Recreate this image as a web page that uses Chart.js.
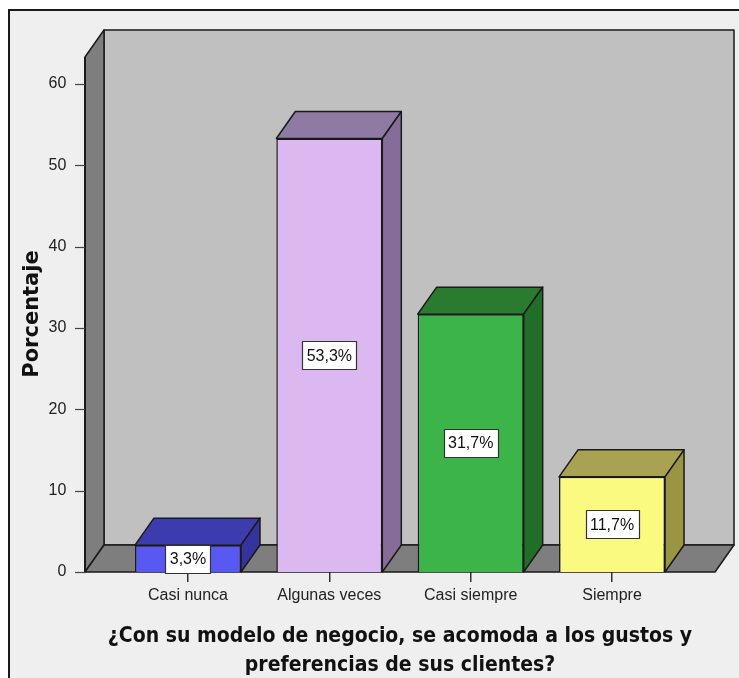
<!DOCTYPE html>
<html>
<head>
<meta charset="utf-8">
<script src="https://cdn.jsdelivr.net/npm/chart.js@4.4.1/dist/chart.umd.min.js"></script>
<style>
  html, body { margin: 0; padding: 0; background: #fff; }
  #wrap { width: 739px; height: 678px; }
</style>
</head>
<body>
<div id="wrap"><canvas id="myChart" width="739" height="678"></canvas></div>
<script>
// data
var categories = ['Casi nunca', 'Algunas veces', 'Casi siempre', 'Siempre'];
var percentages = [3.3, 53.3, 31.7, 11.7];
var yTickValues = [0, 10, 20, 30, 40, 50, 60];
var titleLines = ['¿Con su modelo de negocio, se acomoda a los gustos y', 'preferencias de sus clientes?'];

// colours of the three visible faces of each bar
var frontColors = ['#5858f2', '#dcb8f0', '#3cb44a', '#fafa80'];
var topColors = ['#3c3cae', '#8e7aa2', '#2a7a30', '#a8a252'];
var sideColors = ['#34349c', '#866c98', '#216e28', '#9a9542'];

var dx = 19, dy = -27;   // depth of the 3d look
var sideGap = 32.3;      // floor sticks out this far past the bars area
var sans = '"Liberation Sans", Arial, sans-serif';

function fmt(v) {
  return v.toFixed(1).replace('.', ',') + '%';
}

const box3d = {
  id: 'box3d',
  beforeDraw(chart) {
    const ctx = chart.ctx;
    ctx.save();
    ctx.fillStyle = '#fff';
    ctx.fillRect(0, 0, chart.width, chart.height);
    ctx.fillStyle = '#efefef';
    ctx.fillRect(9, 11, chart.width - 9, chart.height - 11);
    ctx.strokeStyle = '#1a1a1a';
    ctx.lineWidth = 2;
    ctx.beginPath();
    ctx.moveTo(9, chart.height);
    ctx.lineTo(9, 10);
    ctx.lineTo(chart.width, 10);
    ctx.stroke();
    ctx.restore();
  },
  beforeDatasetsDraw(chart) {
    const ctx = chart.ctx;
    const a = chart.chartArea;
    const y = chart.scales.y;
    const y0 = y.getPixelForValue(0);
    const yTop = a.top + dy;
    const left = a.left - sideGap;
    const right = a.right + sideGap;
    ctx.save();
    ctx.strokeStyle = '#1a1a1a';
    ctx.lineWidth = 1.5;
    ctx.lineJoin = 'round';

    // back wall
    ctx.fillStyle = '#c0c0c0';
    ctx.beginPath();
    ctx.rect(left + dx, yTop + dy, right - left, y0 - yTop);
    ctx.fill(); ctx.stroke();

    // left wall
    ctx.fillStyle = '#7e7e7e';
    ctx.beginPath();
    ctx.moveTo(left, y0);
    ctx.lineTo(left, yTop);
    ctx.lineTo(left + dx, yTop + dy);
    ctx.lineTo(left + dx, y0 + dy);
    ctx.closePath();
    ctx.fill(); ctx.stroke();

    // floor
    ctx.beginPath();
    ctx.moveTo(left, y0);
    ctx.lineTo(right, y0);
    ctx.lineTo(right + dx, y0 + dy);
    ctx.lineTo(left + dx, y0 + dy);
    ctx.closePath();
    ctx.fill(); ctx.stroke();

    // y axis line and tick marks
    ctx.lineWidth = 2;
    ctx.beginPath();
    ctx.moveTo(left, y0);
    ctx.lineTo(left, yTop);
    ctx.stroke();
    ctx.lineWidth = 1.2;
    ctx.strokeStyle = '#444';
    yTickValues.forEach(v => {
      const py = Math.round(y.getPixelForValue(v)) + 0.5;
      ctx.beginPath();
      ctx.moveTo(left - 10, py);
      ctx.lineTo(left, py);
      ctx.stroke();
    });
    ctx.restore();
  },
  afterDatasetsDraw(chart) {
    const ctx = chart.ctx;
    const meta = chart.getDatasetMeta(0);
    ctx.save();
    ctx.lineJoin = 'round';
    meta.data.forEach((bar, i) => {
      const x0 = bar.x - bar.width / 2;
      const x1 = bar.x + bar.width / 2;
      const yt = bar.y;
      const yb = bar.base;
      ctx.strokeStyle = '#1a1a1a';
      ctx.lineWidth = 1.5;
      // top face
      ctx.fillStyle = topColors[i];
      ctx.beginPath();
      ctx.moveTo(x0, yt);
      ctx.lineTo(x1, yt);
      ctx.lineTo(x1 + dx, yt + dy);
      ctx.lineTo(x0 + dx, yt + dy);
      ctx.closePath();
      ctx.fill(); ctx.stroke();
      // side face
      ctx.fillStyle = sideColors[i];
      ctx.beginPath();
      ctx.moveTo(x1, yt);
      ctx.lineTo(x1 + dx, yt + dy);
      ctx.lineTo(x1 + dx, yb + dy);
      ctx.lineTo(x1, yb);
      ctx.closePath();
      ctx.fill(); ctx.stroke();
      // value box
      const txt = fmt(percentages[i]);
      ctx.font = '16px ' + sans;
      const w = Math.round(ctx.measureText(txt).width + 9);
      const h = 28;
      const cy = (yt + yb) / 2;
      const bx = Math.round(bar.x - w / 2) + 0.5;
      const by = Math.round(cy - h / 2) + 0.5;
      ctx.fillStyle = '#fff';
      ctx.fillRect(bx, by, w, h);
      ctx.lineWidth = 1.2;
      ctx.strokeStyle = '#333';
      ctx.strokeRect(bx, by, w, h);
      ctx.fillStyle = '#111';
      ctx.textAlign = 'center';
      ctx.textBaseline = 'middle';
      ctx.fillText(txt, bar.x, cy + 1);
    });
    ctx.restore();
  },
  afterDraw(chart) {
    const ctx = chart.ctx;
    const a = chart.chartArea;
    ctx.save();
    // y axis title
    ctx.fillStyle = '#111';
    ctx.font = 'bold 21px "DejaVu Sans", sans-serif';
    ctx.translate(33, 314);
    ctx.rotate(-Math.PI / 2);
    ctx.textAlign = 'center';
    ctx.textBaseline = 'middle';
    ctx.fillText('Porcentaje', 0, 0);
    ctx.restore();

    // x axis title
    ctx.save();
    ctx.fillStyle = '#111';
    ctx.font = 'bold 21px "DejaVu Sans Condensed", "DejaVu Sans", Verdana, sans-serif';
    ctx.textAlign = 'center';
    ctx.textBaseline = 'alphabetic';
    const cx = (a.left + a.right) / 2;
    ctx.fillText(titleLines[0], cx, 642);
    ctx.fillText(titleLines[1], cx, 671);
    ctx.restore();
  }
};

const ctx = document.getElementById('myChart');
const chart1 = new Chart(ctx, {
  type: 'bar',
  data: {
    labels: categories,
    datasets: [{
      data: percentages,
      backgroundColor: frontColors,
      borderColor: '#1a1a1a',
      borderWidth: 1.5,
      categoryPercentage: 1,
      barPercentage: 0.75
    }]
  },
  options: {
    responsive: false,
    animation: false,
    devicePixelRatio: 1,
    layout: { padding: { top: 84, right: 56.3, bottom: 0, left: 0 } },
    plugins: {
      legend: { display: false },
      tooltip: { enabled: false }
    },
    scales: {
      x: {
        grid: {
          display: true,
          drawOnChartArea: false,
          drawTicks: true,
          tickLength: 10,
          lineWidth: 1.5,
          color: '#333',
          offset: false
        },
        border: { display: false },
        ticks: {
          color: '#222',
          padding: 4,
          font: { family: sans, size: 16 }
        },
        afterFit: s => { s.height = 106; }
      },
      y: {
        min: 0,
        max: 60,
        grid: { display: false },
        border: { display: false },
        ticks: {
          stepSize: 10,
          padding: 43,
          color: '#222',
          font: { family: sans, size: 16 }
        },
        afterFit: s => { s.width = 117.3; }
      }
    }
  },
  plugins: [box3d]
});
</script>
</body>
</html>
